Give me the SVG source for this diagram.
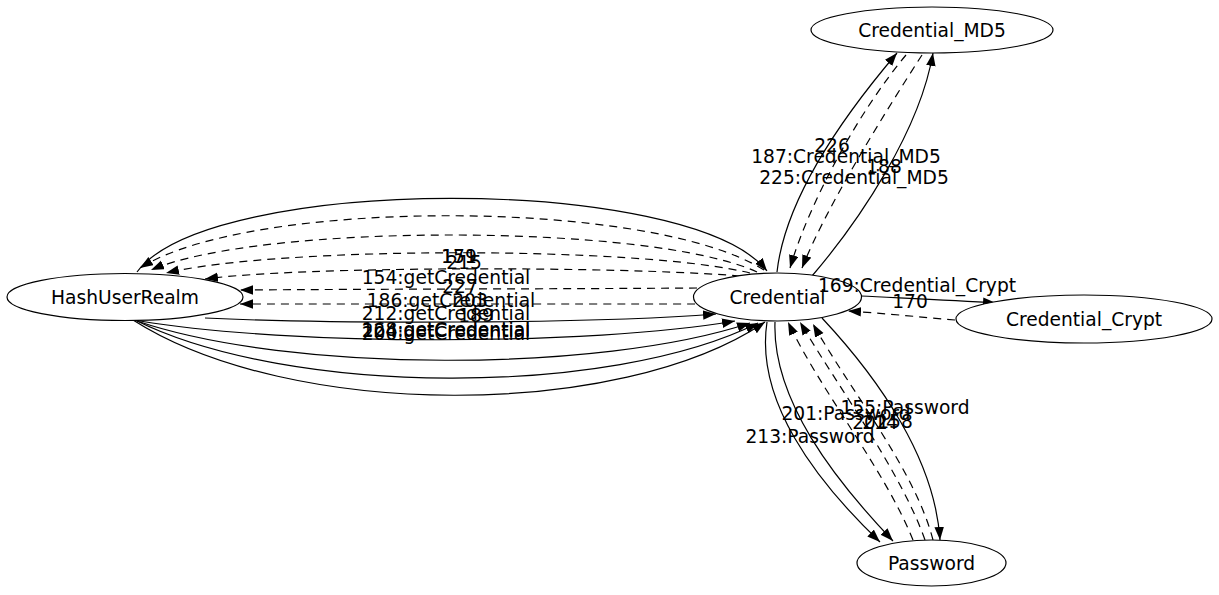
<svg xmlns="http://www.w3.org/2000/svg" width="1219" height="595" viewBox="0 0 1219 595">
<style>
.node ellipse{fill:#fff;stroke:#000;stroke-width:1.2}
text{font-family:"DejaVu Sans","Liberation Sans",sans-serif;font-size:18.67px;fill:#000;text-anchor:middle}
.e{fill:none;stroke:#000;stroke-width:1.2;marker-end:url(#ah)}
.d{stroke-dasharray:8,6}
</style>
<defs>
<marker id="ah" markerUnits="userSpaceOnUse" markerWidth="14" markerHeight="11" refX="13" refY="4.75" orient="auto" viewBox="0 0 14 11">
<path d="M0,0 L13,4.75 L0,9.5 z" fill="#000" stroke="none"/>
</marker>
</defs>
<rect width="1219" height="595" fill="#fff"/>
<g id="edges">
<path class="e" d="M137,272 C210,174 690,174 767,271"/>
<path class="e d" d="M764,270 C650,198 250,198 140,268"/>
<path class="e d" d="M757,272 C650,223 260,223 151,270"/>
<path class="e d" d="M750,273 C640,246 280,246 166,273"/>
<path class="e d" d="M740,276 C620,266 300,266 205,279"/>
<path class="e d" d="M697,288 C560,289 380,289 240,290"/>
<path class="e d" d="M695,304 C560,304 380,304 240,304"/>
<path class="e" d="M205,318 C330,324 590,324 716,314"/>
<path class="e" d="M140,321 C290,346 590,346 735,321"/>
<path class="e" d="M137,321 C290,373 600,373 750,323"/>
<path class="e" d="M135,320 C290,397 610,397 758,323"/>
<path class="e" d="M133,320 C290,420 620,420 765,322"/>
<path class="e" d="M777,272 C785,200 840,120 897,53"/>
<path class="e d" d="M906,55 C860,110 810,200 790,268"/>
<path class="e d" d="M922,55 C880,120 825,210 802,268"/>
<path class="e" d="M812,276 C860,220 920,130 933,53"/>
<path class="e" d="M861,296 C900,298 950,300 996,303"/>
<path class="e d" d="M955,320 C920,317 880,313 848,311"/>
<path class="e" d="M767,322 C755,400 815,480 880,542"/>
<path class="e" d="M775,322 C772,400 835,480 893,541"/>
<path class="e d" d="M913,540 C885,470 820,390 788,322"/>
<path class="e d" d="M925,540 C900,470 840,390 800,322"/>
<path class="e d" d="M933,540 C915,470 850,390 813,324"/>
<path class="e" d="M822,318 C880,380 935,460 940,540"/>
</g>
<g id="HashUserRealm" class="node"><ellipse cx="125" cy="297" rx="118" ry="23.5"/><text x="125" y="304">HashUserRealm</text></g>
<g id="Credential" class="node"><ellipse cx="777.5" cy="297" rx="84" ry="24"/><text x="777.5" y="304">Credential</text></g>
<g id="Credential_MD5" class="node"><ellipse cx="932" cy="30" rx="121" ry="23"/><text x="932" y="37">Credential_MD5</text></g>
<g id="Credential_Crypt" class="node"><ellipse cx="1084" cy="319" rx="128" ry="24"/><text x="1084" y="326">Credential_Crypt</text></g>
<g id="Password" class="node"><ellipse cx="931.5" cy="563" rx="74.5" ry="23"/><text x="931.5" y="570">Password</text></g>
<g id="edge-labels">
<text x="459" y="263">171</text>
<text x="459" y="263">159</text>
<text x="464" y="269">215</text>
<text x="446" y="284">154:getCredential</text>
<text x="460" y="293">227</text>
<text x="451" y="307">186:getCredential</text>
<text x="470" y="307">203</text>
<text x="446" y="320">212:getCredential</text>
<text x="476" y="322">189</text>
<text x="446" y="336">168:getCredential</text>
<text x="446" y="337">224:getCredential</text>
<text x="446" y="340">200:getCredential</text>
<text x="832" y="152">226</text>
<text x="846" y="163">187:Credential_MD5</text>
<text x="884" y="173">188</text>
<text x="854" y="184">225:Credential_MD5</text>
<text x="917" y="292">169:Credential_Crypt</text>
<text x="910" y="308">170</text>
<text x="905" y="414">155:Password</text>
<text x="846" y="420">201:Password</text>
<text x="870" y="429">202</text>
<text x="880" y="429">214</text>
<text x="895" y="428">158</text>
<text x="810" y="443">213:Password</text>
</g>
</svg>
